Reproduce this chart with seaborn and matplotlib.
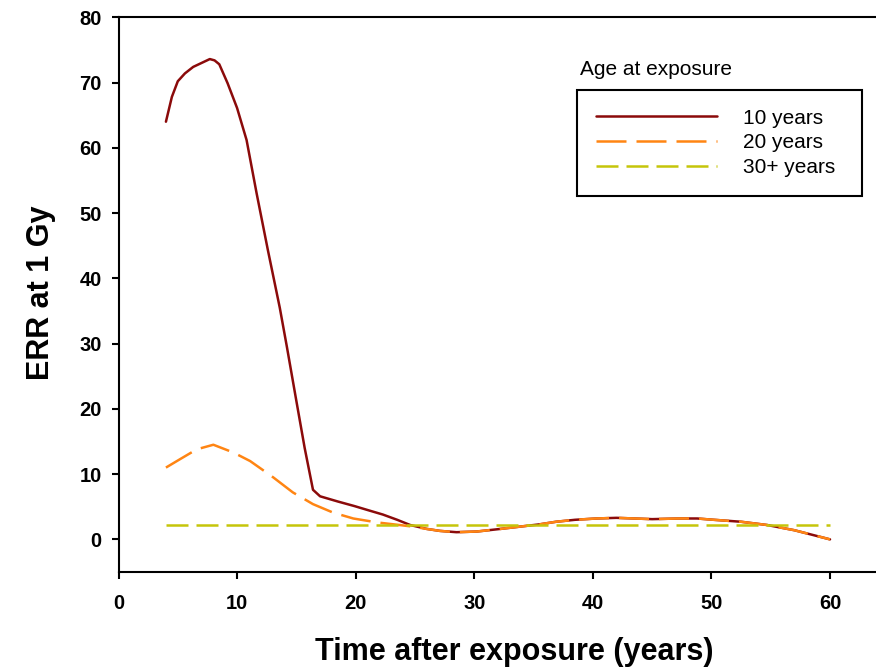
import matplotlib
matplotlib.use("Agg")
import matplotlib.pyplot as plt
import seaborn as sns
import pandas as pd

# Excess relative risk at 1 Gy versus time since exposure, by age at exposure
x_10 = [4.0, 4.5, 5.0, 5.6, 6.3, 7.0, 7.7, 8.1, 8.5, 9.2, 10.0, 10.8, 11.65, 12.6,
        13.6, 14.2, 15.0, 15.7, 16.4, 17.0, 18.5, 19.9, 21.0, 22.3, 23.5, 24.6,
        26.0, 27.1, 28.5, 30.2, 32.2, 33.6, 35.5, 36.9, 38.5, 40.3, 42.0, 43.5,
        45.0, 47.3, 48.8, 50.2, 52.5, 54.7, 57.0, 60.0]
y_10 = [64.0, 67.8, 70.2, 71.4, 72.4, 73.0, 73.6, 73.4, 72.8, 69.9, 66.1, 61.2, 53.0, 44.3,
        35.5, 29.5, 21.2, 14.0, 7.6, 6.6, 5.8, 5.1, 4.5, 3.8, 3.0, 2.2,
        1.6, 1.3, 1.1, 1.2, 1.6, 1.9, 2.3, 2.7, 3.0, 3.2, 3.3, 3.2,
        3.1, 3.2, 3.2, 3.0, 2.7, 2.2, 1.4, 0.0]

x_20 = [4.0, 5.2, 6.6, 8.0, 9.7, 11.1, 13.05, 14.7, 16.4, 18.1, 19.8, 21.8, 23.7,
        24.6, 26.0, 27.1, 28.5, 30.2, 32.2, 33.6, 35.5, 36.9, 38.5, 40.3, 42.0,
        43.5, 45.0, 47.3, 48.8, 50.2, 52.5, 54.7, 57.0, 60.0]
y_20 = [11.0, 12.3, 13.8, 14.5, 13.3, 12.0, 9.5, 7.2, 5.4, 4.1, 3.2, 2.6, 2.2,
        2.0, 1.6, 1.3, 1.1, 1.2, 1.6, 1.9, 2.3, 2.7, 3.0, 3.2, 3.3,
        3.2, 3.1, 3.2, 3.2, 3.0, 2.7, 2.2, 1.4, 0.0]

x_30 = [4.0, 60.0]
y_30 = [2.2, 2.2]

series_labels = ["10 years", "20 years", "30+ years"]
legend_title = "Age at exposure"
x_ticks = [0, 10, 20, 30, 40, 50, 60]
y_ticks = [0, 10, 20, 30, 40, 50, 60, 70, 80]

df_10 = pd.DataFrame({"t": x_10, "err": y_10})
df_20 = pd.DataFrame({"t": x_20, "err": y_20})
df_30 = pd.DataFrame({"t": x_30, "err": y_30})

sns.set_style("ticks")
plt.rcParams["font.family"] = ["Liberation Sans", "DejaVu Sans"]
plt.rcParams["text.color"] = "black"
plt.rcParams["axes.labelcolor"] = "black"
plt.rcParams["xtick.color"] = "black"
plt.rcParams["ytick.color"] = "black"

W, H = 876, 668
fig = plt.figure(figsize=(W / 100, H / 100), dpi=100)
ax_left, ax_right, ax_top, ax_bottom = 118.5, 889.3, 17.3, 572.0
ax = fig.add_axes([ax_left / W, 1 - ax_bottom / H,
                   (ax_right - ax_left) / W, (ax_bottom - ax_top) / H])

lw = 1.8
sns.lineplot(data=df_10, x="t", y="err", ax=ax, color="#8b0a0a", lw=lw,
             label=series_labels[0], sort=False)
sns.lineplot(data=df_20, x="t", y="err", ax=ax, color="#ff8513", lw=lw,
             label=series_labels[1], sort=False, dashes=(12, 4))
sns.lineplot(data=df_30, x="t", y="err", ax=ax, color="#c5c50a", lw=lw,
             label=series_labels[2], sort=False, dashes=(8.8, 3.2))

ax.set_xlim(0, 65)
ax.set_ylim(-5, 80)
ax.set_xticks(x_ticks)
ax.set_yticks(y_ticks)

for side in ["left", "bottom", "top"]:
    ax.spines[side].set_visible(True)
    ax.spines[side].set_linewidth(1.5)
    ax.spines[side].set_color("black")
ax.spines["right"].set_visible(False)

ax.tick_params(axis="both", direction="out", length=5, width=1.5, color="black",
               labelsize=14.5, labelcolor="black", top=False, right=False)
ax.tick_params(axis="x", pad=11)
ax.tick_params(axis="y", pad=7)
for lab in ax.get_xticklabels() + ax.get_yticklabels():
    lab.set_fontweight("bold")

ax.set_xlabel("Time after exposure (years)", fontsize=22, fontweight="bold",
              color="black")
ax.set_ylabel("ERR at 1 Gy", fontsize=22, fontweight="bold", color="black")
ax_w = ax_right - ax_left
ax_h = ax_bottom - ax_top
ax.xaxis.label.set_va("baseline")
ax.xaxis.set_label_coords((514.5 - ax_left) / ax_w, (ax_bottom - 660) / ax_h)
ax.yaxis.set_label_coords((56.5 - ax_left) / ax_w, (ax_bottom - 292.5) / ax_h)

handles, labels = ax.get_legend_handles_labels()
leg = ax.legend(handles, labels, loc="upper left",
                bbox_to_anchor=((577 - ax_left) / ax_w, (ax_bottom - 90) / ax_h,
                                (862 - 577) / ax_w, 0.0),
                mode="expand", borderaxespad=0, fontsize=15,
                handlelength=5.8, handletextpad=1.25, borderpad=0.9,
                labelspacing=0.27, fancybox=False, framealpha=1)
leg.get_frame().set_edgecolor("black")
leg.get_frame().set_linewidth(1.5)
for t in leg.get_texts():
    t.set_color("black")

fig.text(580 / W, 1 - 75 / H, legend_title, fontsize=15, va="baseline", ha="left",
         color="black")

fig.savefig("out.png", dpi=100)
